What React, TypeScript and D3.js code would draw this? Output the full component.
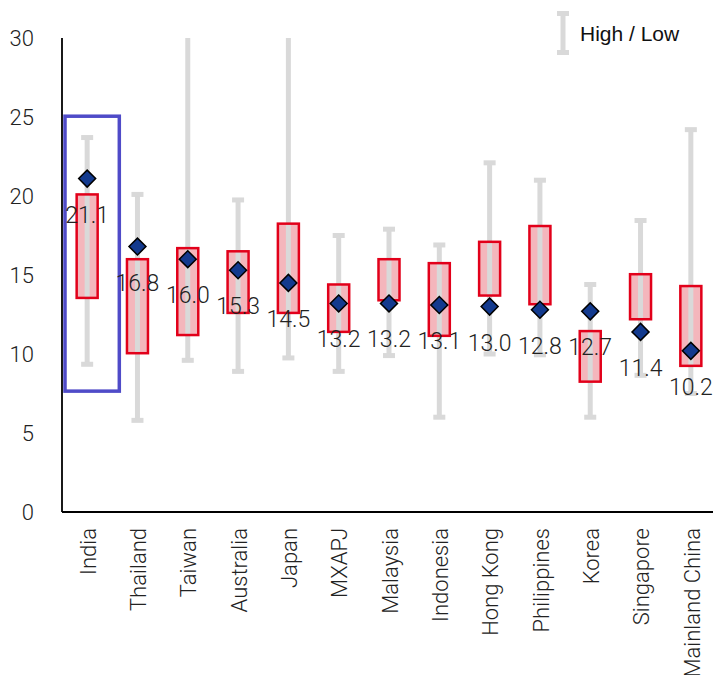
import React from "react";
import * as d3 from "d3";

const categories = ["India","Thailand","Taiwan","Australia","Japan","MXAPJ","Malaysia","Indonesia","Hong Kong","Philippines","Korea","Singapore","Mainland China"];
const currentValues = [21.1,16.8,16.0,15.3,14.5,13.2,13.2,13.1,13.0,12.8,12.7,11.4,10.2];
const highValues = [23.7,20.1,34,19.75,34,17.5,17.9,16.9,22.1,21.0,14.4,18.45,24.2];
const lowValues = [9.35,5.8,9.6,8.9,9.75,8.9,9.9,6.0,10.0,9.95,6.0,8.65,7.5];
const boxTop = [20.1,16.0,16.7,16.5,18.25,14.4,16.0,15.75,17.1,18.1,11.45,15.05,14.3];
const boxBottom = [13.55,10.05,11.2,12.6,12.6,11.4,13.4,11.15,13.7,13.15,8.25,12.2,9.25];
const yTicks = [0,5,10,15,20,25,30];
const highlight = { category: "India", top: 25.05, bottom: 7.65 };

const W = 713, H = 675;
const left = 62, top = 38, bottom = 512, right = 716;

export default function App() {
  const x = d3.scaleBand<string>().domain(categories).range([left, right]).padding(0);
  const y = d3.scaleLinear().domain([0, 30]).range([bottom, top]);
  const bw = x.bandwidth();
  const cx = (c: string) => (x(c) as number) + bw / 2;
  const thin = "Roboto, 'Liberation Sans', sans-serif";
  const diamond = d3.symbol().type(d3.symbolSquare).size(12 * 12)();

  const hx = x(highlight.category) as number;

  return (
    <svg width={W} height={H} style={{ position: "fixed", left: 0, top: 0, background: "#fff" }}>
      <defs>
        <clipPath id="plot">
          <rect x={left} y={top} width={right - left} height={bottom - top} />
        </clipPath>
      </defs>
      <g clipPath="url(#plot)">
        {categories.map((c, i) => {
          const xc = cx(c);
          return (
            <g key={c}>
              <rect x={xc - 10.5} y={y(boxTop[i])} width={21} height={y(boxBottom[i]) - y(boxTop[i])} fill="#F4B6BC" />
              <line x1={xc} x2={xc} y1={y(highValues[i])} y2={y(lowValues[i])} stroke="#D9D9D9" strokeWidth={5} />
              {highValues[i] <= 30 && <rect x={xc - 6} y={y(highValues[i]) - 2.5} width={12} height={5} fill="#D9D9D9" />}
              <rect x={xc - 6} y={y(lowValues[i]) - 2.5} width={12} height={5} fill="#D9D9D9" />
              <rect x={xc - 10.5} y={y(boxTop[i])} width={21} height={y(boxBottom[i]) - y(boxTop[i])} fill="none" stroke="#E2001A" strokeWidth={2.5} />
            </g>
          );
        })}
      </g>
      <rect x={hx + 3} y={y(highlight.top)} width={bw + 4} height={y(highlight.bottom) - y(highlight.top)} fill="none" stroke="#4F4BC8" strokeWidth={3.5} />
      {categories.map((c, i) => (
        <g key={"d" + c}>
          <path d={diamond as string} transform={`translate(${cx(c)},${y(currentValues[i])}) rotate(45)`} fill="#133A8E" stroke="#000" strokeWidth={1.5} />
          <text x={cx(c)} y={y(currentValues[i]) + 44} textAnchor="middle" fontFamily={thin} fontWeight={300} fontSize={23} fill="#222">
            {currentValues[i].toFixed(1)}
          </text>
        </g>
      ))}
      <line x1={left} x2={left} y1={top} y2={bottom} stroke="#000" strokeWidth={1.8} />
      <line x1={left} x2={W} y1={bottom} y2={bottom} stroke="#000" strokeWidth={1.8} />
      {yTicks.map((t) => (
        <text key={t} x={34} y={y(t)} dy="0.35em" textAnchor="end" fontFamily={thin} fontWeight={300} fontSize={22} fill="#222">{t}</text>
      ))}
      {categories.map((c) => (
        <text key={"l" + c} transform={`translate(${cx(c) + 1},${bottom + 16}) rotate(-90)`} dy="0.35em" textAnchor="end" fontFamily={thin} fontWeight={300} fontSize={22} fill="#222">{c}</text>
      ))}
      <g>
        <line x1={563} x2={563} y1={13} y2={53} stroke="#D9D9D9" strokeWidth={5} />
        <rect x={557} y={11} width={12} height={5} fill="#D9D9D9" />
        <rect x={557} y={50} width={12} height={5} fill="#D9D9D9" />
        <text x={580} y={41} fontFamily="'Liberation Sans', Arial, sans-serif" fontSize={21} fill="#111">High / Low</text>
      </g>
    </svg>
  );
}
